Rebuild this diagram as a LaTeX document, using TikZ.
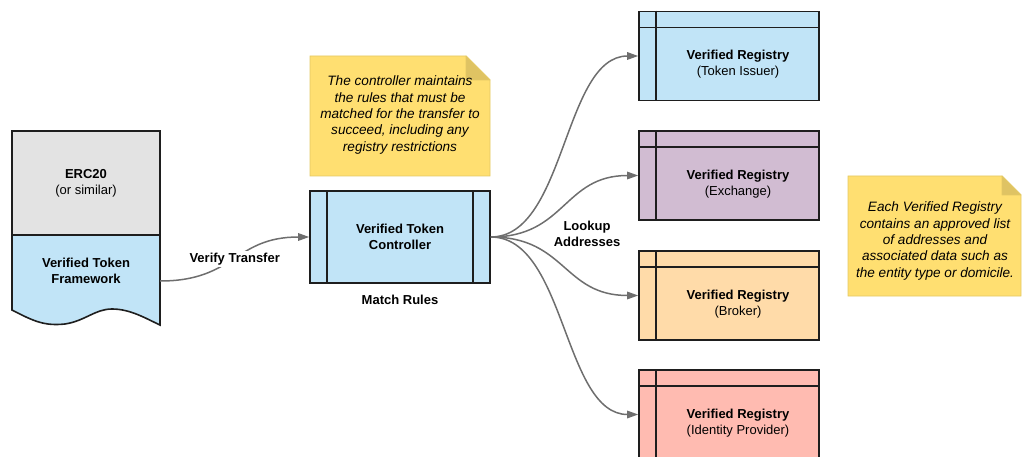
\documentclass[tikz,border=0pt]{standalone}
\usepackage{fontspec}
\setmainfont{Liberation Sans}
\usetikzlibrary{arrows.meta}

\definecolor{ercgray}{HTML}{E3E3E3}
\definecolor{tokblue}{HTML}{C1E4F7}
\definecolor{exchpurple}{HTML}{D1BCD2}
\definecolor{brokorange}{HTML}{FFDBA9}
\definecolor{idpink}{HTML}{FFBBB1}
\definecolor{noteyellow}{HTML}{FFDF71}
\definecolor{notefold}{HTML}{DFC363}
\definecolor{noteedge}{HTML}{E3C864}
\definecolor{wiregray}{HTML}{6E6E6E}
\definecolor{edgeblack}{HTML}{1E1E1E}

\begin{document}
\begin{tikzpicture}[x=1pt,y=-1pt,
  every node/.style={font=\fontsize{13}{16}\selectfont, align=center},
  bold/.style={font=\fontsize{13}{16}\selectfont\bfseries},
  italic/.style={font=\fontsize{13.6}{16.3}\selectfont\itshape},
  box/.style={draw=edgeblack, line width=1.6pt, inner sep=0pt},
  rule/.style={draw=edgeblack, line width=1.6pt},
  conn/.style={wiregray, line width=1.5pt, -{Triangle[length=11pt,width=7.5pt]}},
  note/.style={fill=noteyellow, draw=noteedge, line width=0.8pt},
  fold/.style={fill=notefold, draw=noteedge, line width=0.8pt, line join=round},
]
  \useasboundingbox (0,0) rectangle (1022,457);

  % 左の文書(下半分)
  \fill[tokblue] (12,235) -- (160,235) -- (160,325)
    .. controls (145,318) and (130,309) .. (112,309)
    .. controls (95,309) and (85,321) .. (65,324)
    .. controls (45,326) and (35,322) .. (12,310) -- cycle;
  \draw[rule, line join=miter] (12,235) -- (12,310)
    .. controls (35,322) and (45,326) .. (65,324)
    .. controls (85,321) and (95,309) .. (112,309)
    .. controls (130,309) and (145,318) .. (160,325) -- (160,235);
  \node[bold, minimum width=148pt] (vtf) at (86,271) {Verified Token\\Framework};

  % 左の文書(上半分)
  \node[box, fill=ercgray, minimum width=148pt, minimum height=104pt] (erc) at (86,183)
    {\textbf{ERC20}\\(or similar)};

  % コントローラ
  \node[box, bold, fill=tokblue, minimum width=180pt, minimum height=92pt] (ctrl) at (400,237)
    {Verified Token\\Controller};
  \draw[rule] ([xshift=18pt]ctrl.north west) -- ([xshift=18pt]ctrl.south west);
  \draw[rule] ([xshift=-18pt]ctrl.north east) -- ([xshift=-18pt]ctrl.south east);
  \node[bold] (rules) at (400,300) {Match Rules};

  % 文書からコントローラへ
  \draw[conn] ([yshift=-10pt]vtf.east) .. controls +(75,0) and +(-75,0) .. (ctrl.west)
    node[pos=0.5, bold, text=black, fill=white, inner sep=2pt] (verify) {Verify Transfer};

  % メモ(上)
  \draw[note] (310,56) -- (466,56) -- (490,80) -- (490,176) -- (310,176) -- cycle;
  \draw[fold] (466,56) -- (466,80) -- (490,80) -- cycle;
  \node[italic] (note1) at (400,115)
    {The controller maintains\\the rules that must be\\matched for the transfer to\\succeed, including any\\registry restrictions};

  % レジストリ
  \foreach \nm/\y/\col/\sub in {tokiss/56/tokblue/Token Issuer,
      exch/175.5/exchpurple/Exchange,
      brok/295.5/brokorange/Broker,
      idprov/414.5/idpink/Identity Provider} {
    \node[box, fill=\col, minimum width=180pt, minimum height=89pt] (\nm) at (729,\y) {};
    \draw[rule] ([xshift=18pt]\nm.north west) -- ([xshift=18pt]\nm.south west);
    \draw[rule] ([yshift=-17pt]\nm.north west) -- ([yshift=-17pt]\nm.north east);
    \node (\nm-txt) at ([xshift=9pt,yshift=-8.5pt]\nm.center) {\textbf{Verified Registry}\\(\sub)};
  }

  % コントローラからレジストリへ
  \foreach \nm in {tokiss, exch, brok, idprov}
    \draw[conn] (ctrl.east) .. controls +(75,0) and +(-75,0) .. (\nm.west);
  \node[bold] (lookup) at (587,234) {Lookup\\Addresses};

  % メモ(右)
  \draw[note] (848,176) -- (1002,176) -- (1021,195) -- (1021,296) -- (848,296) -- cycle;
  \draw[fold] (1002,176) -- (1002,195) -- (1021,195) -- cycle;
  \node[italic] (note2) at (935,241)
    {Each Verified Registry\\contains an approved list\\of addresses and\\associated data such as\\the entity type or domicile.};
\end{tikzpicture}
\end{document}
